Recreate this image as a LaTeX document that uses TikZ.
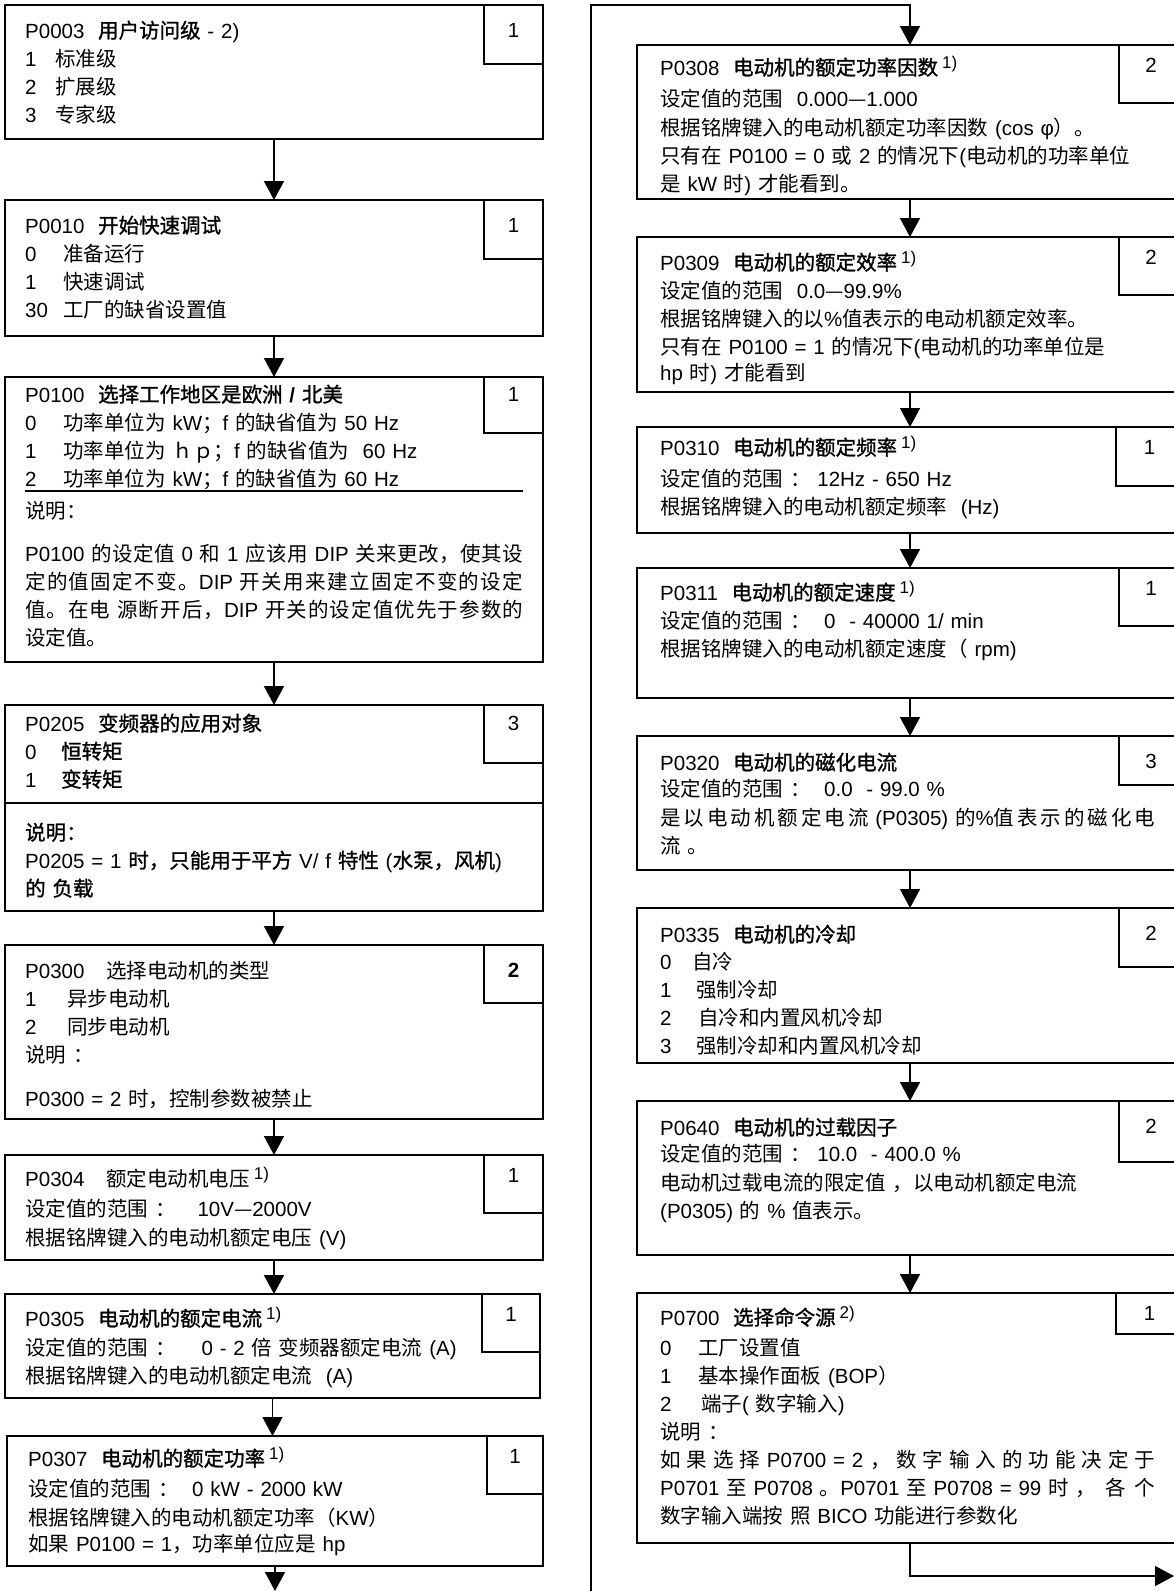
\documentclass[tikz,border=0pt]{standalone}
\usepackage{fontspec}
\setmainfont{Liberation Sans}
\newfontfamily\cjkfont{Noto Sans CJK SC}[BoldFont={Noto Sans CJK SC}, BoldFeatures={FakeBold=1.2}]
\usetikzlibrary{arrows.meta,positioning,calc}

% Chinese characters are set in the CJK font
\XeTeXinterchartokenstate=1
\newcount\cjkcode
\cjkcode="4E00 \loop\XeTeXcharclass\cjkcode=7 \advance\cjkcode by 1 \ifnum\cjkcode<"A000 \repeat
\cjkcode="3000 \loop\XeTeXcharclass\cjkcode=7 \advance\cjkcode by 1 \ifnum\cjkcode<"3040 \repeat
\cjkcode="FF00 \loop\XeTeXcharclass\cjkcode=7 \advance\cjkcode by 1 \ifnum\cjkcode<"FFF0 \repeat
\XeTeXcharclass"2014=7
\XeTeXinterchartoks 0 7 = {\begingroup\cjkfont}
\XeTeXinterchartoks 4095 7 = {\begingroup\cjkfont}
\XeTeXinterchartoks 7 0 = {\endgroup}
\XeTeXinterchartoks 7 4095 = {\endgroup}
\XeTeXinterchartoks 7 7 = {\hskip 0pt plus 1pt\relax}

\newcommand{\bodyfont}{\fontsize{20.5}{28}\selectfont}
\newcommand{\noteup}[1]{\hspace{4pt}\raisebox{7pt}{\fontsize{17}{17}\selectfont #1}}
\newcommand{\val}[2][38pt]{\makebox[#1][l]{#2}}
\newcommand{\jline}[2][498pt]{\makebox[#1][s]{#2}}

\begin{document}
\begin{tikzpicture}[x=1pt, y=-1pt, every node/.style={font=\bodyfont},
  pbox/.style={draw, line width=2pt, anchor=north west, inner sep=0pt, outer sep=0pt},
  numbox/.style={draw, line width=2pt, anchor=north east, inner sep=0pt, outer sep=0pt, minimum width=59pt, minimum height=#1},
  numtxt/.style={anchor=north, inner sep=0pt, yshift=-13pt},
  ptext/.style={anchor=base west, align=left, text width=505pt, inner sep=0pt},
  flow/.style={line width=1.5pt, -{Triangle[length=19pt, width=20pt]}}]
\useasboundingbox (0,0) rectangle (1174,1591);
\clip (0,0) rectangle (1174,1591);

% left column
\node[pbox, minimum width=538pt, minimum height=134pt] (p0003) at (5,5) {};
\node[numbox=59pt, label={[numtxt, yshift=-5pt]north:1}] (p0003n) at (p0003.north east) {};
\node[ptext] at ([shift={(20,33)}]p0003.north west) {P0003~~{\bfseries 用户访问级} - 2)\\
  \val[30pt]{1}标准级\\ \val[30pt]{2}扩展级\\ \val[30pt]{3}专家级};

\node[pbox, minimum width=538pt, minimum height=136pt] (p0010) at (5,200) {};
\node[numbox=59pt, label={[numtxt, yshift=-5pt]north:1}] (p0010n) at (p0010.north east) {};
\node[ptext] at ([shift={(20,33)}]p0010.north west) {P0010~~{\bfseries 开始快速调试}\\
  \val{0}准备运行\\ \val{1}快速调试\\ \val{30}工厂的缺省设置值};

\node[pbox, minimum width=538pt, minimum height=285pt] (p0100) at (5,377) {};
\node[numbox=56pt, label={[numtxt, yshift=3pt]north:1}] (p0100n) at (p0100.north east) {};
\node[ptext] at ([shift={(20,25)}]p0100.north west) {P0100~~{\bfseries 选择工作地区是欧洲 / 北美}\\
  \val{0}功率单位为 kW；f 的缺省值为 50 Hz\\
  \val{1}功率单位为 ｈｐ；f 的缺省值为 ~60 Hz\\
  \val{2}功率单位为 kW；f 的缺省值为 60 Hz\\[4pt]
  说明：\\[15pt]
  \jline{P0100 的设定值 0 和 1 应该用 DIP 关来更改，使其设}\\
  \jline{定的值固定不变。DIP 开关用来建立固定不变的设定}\\
  \jline{值。在电 源断开后，DIP 开关的设定值优先于参数的}\\
  设定值。};
\draw[line width=1.5pt] ([shift={(20,114)}]p0100.north west) -- ([shift={(518,114)}]p0100.north west);

\node[pbox, minimum width=538pt, minimum height=206pt] (p0205) at (5,705) {};
\node[numbox=58pt, label={[numtxt, yshift=2pt]north:3}] (p0205n) at (p0205.north east) {};
\node[ptext] at ([shift={(20,26)}]p0205.north west) {P0205~~{\bfseries 变频器的应用对象}\\
  \val[36pt]{0}{\bfseries 恒转矩}\\ \val[36pt]{1}{\bfseries 变转矩}\\[25pt]
  {\bfseries 说明：}\\
  P0205 = 1 {\bfseries 时，只能用于平方} V/ f {\bfseries 特性} ({\bfseries 水泵，风机})\\
  {\bfseries 的 负载}};
\draw[line width=2pt] ([yshift=-98pt]p0205.north west) -- ([yshift=-98pt]p0205.north east);

\node[pbox, minimum width=538pt, minimum height=174pt] (p0300) at (5,945) {};
\node[numbox=58pt, label={[numtxt, yshift=-5pt, font=\bodyfont\bfseries]north:2}] (p0300n) at (p0300.north east) {};
\node[ptext] at ([shift={(20,33)}]p0300.north west) {P0300\hspace{22pt}选择电动机的类型\\
  \val[42pt]{1}异步电动机\\ \val[42pt]{2}同步电动机\\ 说明 ：\\[16pt]
  P0300 = 2 时，控制参数被禁止};

\node[pbox, minimum width=538pt, minimum height=105pt] (p0304) at (5,1155) {};
\node[numbox=58pt, label={[numtxt]north:1}] (p0304n) at (p0304.north east) {};
\node[ptext] at ([shift={(20,31)}]p0304.north west) {P0304\hspace{22pt}额定电动机电压\noteup{1)}\\[2pt]
  设定值的范围 ：\hspace{22pt}10V—2000V\\[1pt]
  根据铭牌键入的电动机额定电压 (V)};

\node[pbox, minimum width=535pt, minimum height=104pt] (p0305) at (5,1294) {};
\node[numbox=58pt, minimum width=58pt, label={[numtxt]north:1}] (p0305n) at (p0305.north east) {};
\node[ptext] at ([shift={(20,32)}]p0305.north west) {P0305~~{\bfseries 电动机的额定电流}\noteup{1)}\\[1pt]
  设定值的范围 ：\hspace{26pt}0 - 2 倍 变频器额定电流 (A)\\
  根据铭牌键入的电动机额定电流 ~(A)};

\node[pbox, minimum width=536pt, minimum height=130pt] (p0307) at (7,1436) {};
\node[numbox=58pt, minimum width=56pt, label={[numtxt]north:1}] (p0307n) at (p0307.north east) {};
\node[ptext] at ([shift={(21,30)}]p0307.north west) {P0307~~{\bfseries 电动机的额定功率}\noteup{1)}\\[2pt]
  设定值的范围 ：~~0 kW - 2000 kW\\[1pt]
  根据铭牌键入的电动机额定功率（KW）\\[-2pt]
  如果 P0100 = 1，功率单位应是 hp};

% right column
\node[pbox, minimum width=546pt, minimum height=154pt] (p0308) at (637,45) {};
\node[numbox=58pt, minimum width=64pt, label={[numtxt]north:2}] (p0308n) at (p0308.north east) {};
\node[ptext, text width=500pt] at ([shift={(23,30)}]p0308.north west) {P0308~~{\bfseries 电动机的额定功率因数}\noteup{1)}\\[3pt]
  设定值的范围~~0.000—1.000\\[1pt]
  根据铭牌键入的电动机额定功率因数 (cos φ）。\\
  只有在 P0100 = 0 或 2 的情况下(电动机的功率单位\\
  是 kW 时) 才能看到。};

\node[pbox, minimum width=546pt, minimum height=155pt] (p0309) at (637,237) {};
\node[numbox=58pt, minimum width=64pt, label={[numtxt]north:2}] (p0309n) at (p0309.north east) {};
\node[ptext, text width=500pt] at ([shift={(23,33)}]p0309.north west) {P0309~~{\bfseries 电动机的额定效率}\noteup{1)}\\
  设定值的范围~~0.0—99.9\%\\
  根据铭牌键入的以\%值表示的电动机额定效率。\\
  只有在 P0100 = 1 的情况下(电动机的功率单位是\\[-2pt]
  hp 时) 才能看到};

\node[pbox, minimum width=546pt, minimum height=106pt] (p0310) at (637,427) {};
\node[numbox=59pt, minimum width=67pt, label={[numtxt]north:1}] (p0310n) at (p0310.north east) {};
\node[ptext, text width=500pt] at ([shift={(23,28)}]p0310.north west) {P0310~~{\bfseries 电动机的额定频率}\noteup{1)}\\[3pt]
  设定值的范围 ：~12Hz - 650 Hz\\
  根据铭牌键入的电动机额定频率 ~(Hz)};

\node[pbox, minimum width=546pt, minimum height=130pt] (p0311) at (637,568) {};
\node[numbox=58pt, minimum width=64pt, label={[numtxt]north:1}] (p0311n) at (p0311.north east) {};
\node[ptext, text width=500pt] at ([shift={(23,32)}]p0311.north west) {P0311~~{\bfseries 电动机的额定速度}\noteup{1)}\\
  设定值的范围 ：~~0 ~- 40000 1/ min\\
  根据铭牌键入的电动机额定速度（ rpm)};

\node[pbox, minimum width=546pt, minimum height=134pt] (p0320) at (637,736) {};
\node[numbox=49pt, minimum width=64pt, label={[numtxt, yshift=-5pt]north:3}] (p0320n) at (p0320.north east) {};
\node[ptext, text width=500pt] at ([shift={(23,34)}]p0320.north west) {P0320~~{\bfseries 电动机的磁化电流}\\[-2pt]
  设定值的范围 ：~~0.0 ~- 99.0 \%\\[1pt]
  \jline[495pt]{是以电动机额定电流 (P0305) 的\%值表示的磁化电}\\
  流 。};

\node[pbox, minimum width=546pt, minimum height=155pt] (p0335) at (637,908) {};
\node[numbox=59pt, minimum width=64pt, label={[numtxt, yshift=-5pt]north:2}] (p0335n) at (p0335.north east) {};
\node[ptext, text width=500pt] at ([shift={(23,34)}]p0335.north west) {P0335~~{\bfseries 电动机的冷却}\\[-1pt]
  \val[32pt]{0}自冷\\ \val[36pt]{1}强制冷却\\ \val[38pt]{2}自冷和内置风机冷却\\
  \val[36pt]{3}强制冷却和内置风机冷却};

\node[pbox, minimum width=546pt, minimum height=154pt] (p0640) at (637,1101) {};
\node[numbox=61pt, minimum width=64pt, label={[numtxt, yshift=-5pt]north:2}] (p0640n) at (p0640.north east) {};
\node[ptext, text width=500pt] at ([shift={(23,34)}]p0640.north west) {P0640~~{\bfseries 电动机的过载因子}\\[-2pt]
  设定值的范围 ：~10.0 ~- 400.0 \%\\[1pt]
  电动机过载电流的限定值 ，以电动机额定电流\\
  (P0305) 的 \% 值表示。};

\node[pbox, minimum width=546pt, minimum height=250pt] (p0700) at (637,1293) {};
\node[numbox=41pt, minimum width=67pt, label={[numtxt]north:1}] (p0700n) at (p0700.north east) {};
\node[ptext, text width=500pt] at ([shift={(23,32)}]p0700.north west) {P0700~~{\bfseries 选择命令源}\noteup{2)}\\[2pt]
  \val{0}工厂设置值\\ \val{1}基本操作面板 (BOP）\\ \val[41pt]{2}端子( 数字输入)\\
  说明 ：\\
  \jline[495pt]{如果选择 P0700 = 2 ，数字输入的功能决定于}\\
  \jline[495pt]{P0701 至 P0708 。P0701 至 P0708 = 99 时 ，各个}\\
  数字输入端按 照 BICO 功能进行参数化};

% connectors
\coordinate (tonext) at (275,1591);
\coordinate (fromleft) at (591,1591);
\coordinate (toright) at (1174,1576);
\draw[flow] (p0003.south) -- (p0003.south |- p0010.north);
\draw[flow] (p0010.south) -- (p0010.south |- p0100.north);
\draw[flow] (p0100.south) -- (p0100.south |- p0205.north);
\draw[flow] (p0205.south) -- (p0205.south |- p0300.north);
\draw[flow] (p0300.south) -- (p0300.south |- p0304.north);
\draw[flow] (p0304.south) -- (p0304.south |- p0305.north);
\draw[flow] (p0305.south) -- (p0305.south |- p0307.north);
\draw[flow] (p0307.south) -- (p0307.south |- tonext);
\draw[flow] (fromleft) |- ([yshift=40pt]p0308.north) -- (p0308.north);
\draw[flow] (p0308.south) -- (p0309.north);
\draw[flow] (p0309.south) -- (p0310.north);
\draw[flow] (p0310.south) -- (p0311.north);
\draw[flow] (p0311.south) -- (p0320.north);
\draw[flow] (p0320.south) -- (p0335.north);
\draw[flow] (p0335.south) -- (p0640.north);
\draw[flow] (p0640.south) -- (p0700.north);
\draw[flow] (p0700.south) |- (toright);
\end{tikzpicture}
\end{document}
